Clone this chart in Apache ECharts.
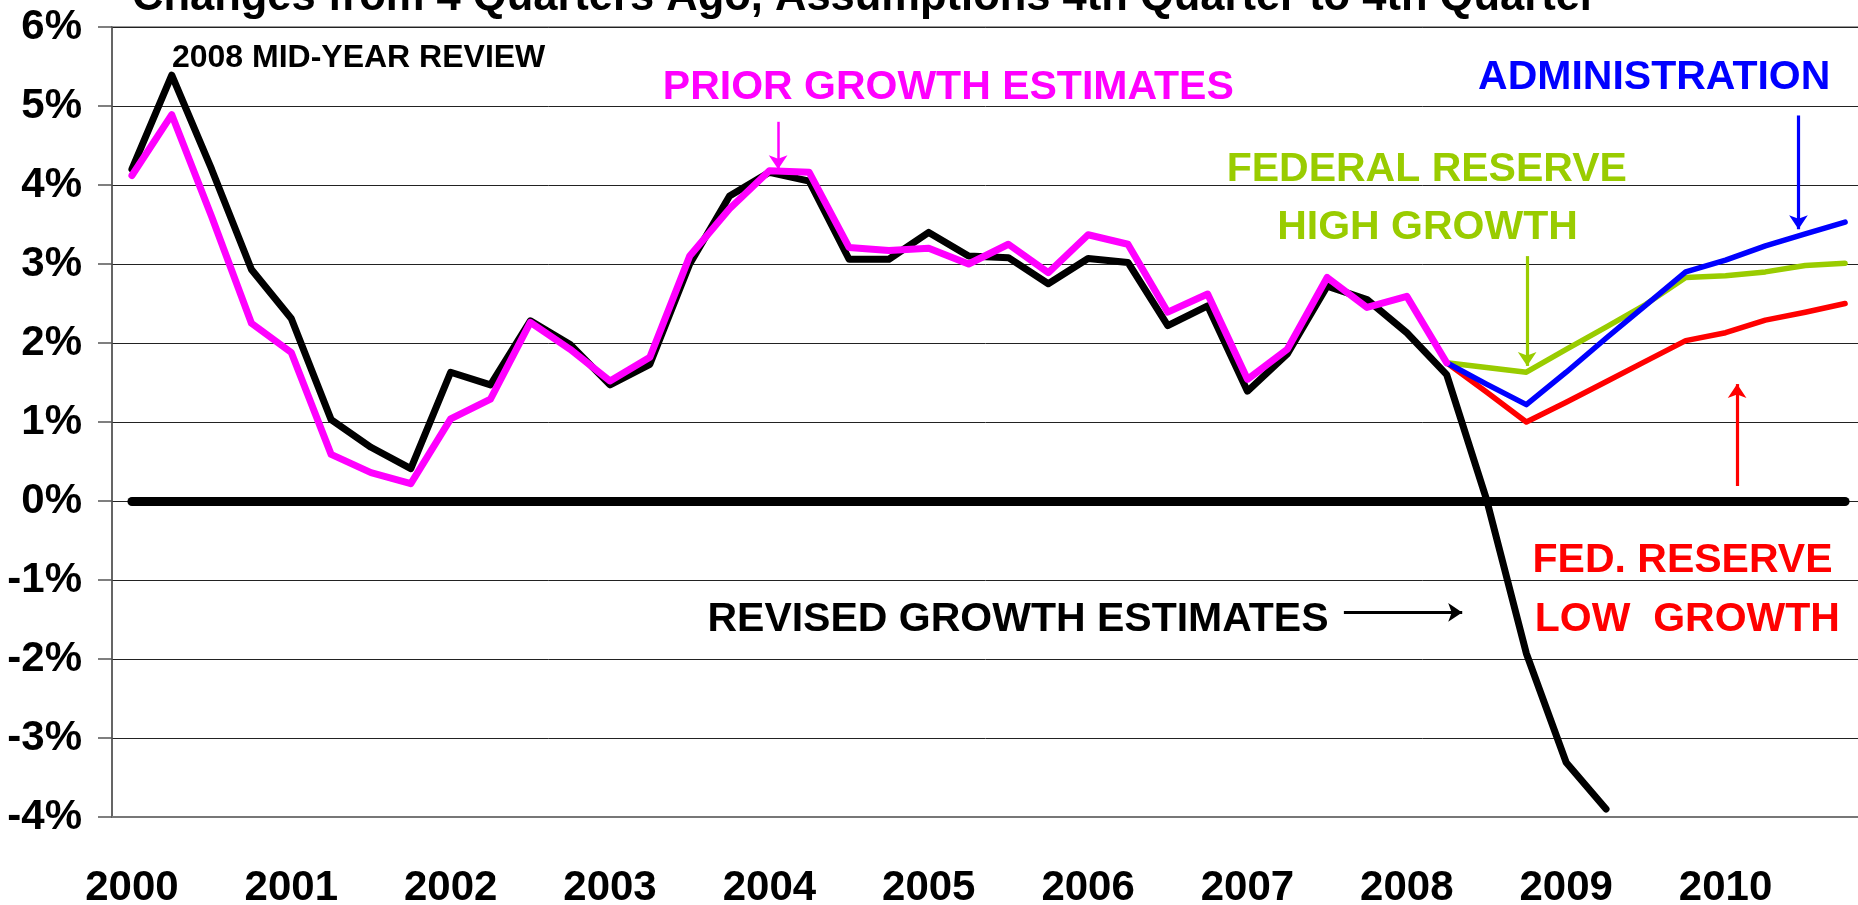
<!DOCTYPE html>
<html>
<head>
<meta charset="utf-8">
<title>Growth estimates</title>
<script src="https://cdn.jsdelivr.net/npm/echarts@6/dist/echarts.min.js"></script>
<style>
  html, body { margin: 0; padding: 0; background: #fff; }
  #chart { width: 1858px; height: 905px; }
</style>
</head>
<body>
<div id="chart"></div>
<script>
// quarterly categories, 2000 Q1 .. 2010 Q4
const years = ['2000', '2001', '2002', '2003', '2004', '2005', '2006', '2007', '2008', '2009', '2010']
const quarters = years.flatMap(y => ['Q1', 'Q2', 'Q3', 'Q4'].map(q => y + ' ' + q))

// 2008 mid-year review, revised estimates (starts 2000 Q1)
const revised = [4.20, 5.39, 4.20, 2.93, 2.31, 1.03, 0.68, 0.41, 1.63, 1.47, 2.28, 1.98,
  1.47, 1.73, 3.00, 3.86, 4.16, 4.05, 3.06, 3.06, 3.40, 3.10, 3.08, 2.75,
  3.07, 3.02, 2.22, 2.47, 1.39, 1.86, 2.72, 2.55, 2.13, 1.60, 0.02, -1.93,
  -3.31, -3.90]
// prior growth estimates (starts 2000 Q1)
const prior = [4.12, 4.89, 3.60, 2.25, 1.88, 0.59, 0.36, 0.22, 1.04, 1.29, 2.26, 1.92,
  1.52, 1.82, 3.10, 3.70, 4.18, 4.16, 3.21, 3.17, 3.20, 3.00, 3.25, 2.89,
  3.37, 3.25, 2.39, 2.62, 1.54, 1.92, 2.83, 2.45, 2.59, 1.75]
// assumptions, start at 2008 Q2 (index 33)
const projStart = 33
const fedHigh = [1.75, 1.69, 1.63, 1.92, 2.20, 2.49, 2.83, 2.85, 2.90, 2.98, 3.01]
const admin = [1.75, 1.48, 1.22, 1.63, 2.06, 2.48, 2.90, 3.05, 3.23, 3.38, 3.53]
const fedLow = [1.75, 1.38, 1.00, 1.25, 1.51, 1.77, 2.03, 2.13, 2.29, 2.39, 2.50]

const FONT = '"Liberation Sans", Arial, Helvetica, sans-serif'

// annotations in quarter units (x) and percent (y)
const labels = [
  { text: '2008 MID-YEAR REVIEW', at: [6.19, 5.61], color: '#000000', size: 32 },
  { text: 'PRIOR GROWTH ESTIMATES', at: [20.99, 5.23], color: '#FF00FF', size: 41 },
  { text: 'FEDERAL RESERVE', at: [33.0, 4.19], color: '#99CC00', size: 41 },
  { text: 'HIGH GROWTH', at: [33.02, 3.46], color: '#99CC00', size: 41 },
  { text: 'ADMINISTRATION', at: [38.71, 5.36], color: '#0000FF', size: 41 },
  { text: 'FED. RESERVE', at: [39.42, -0.76], color: '#FF0000', size: 41 },
  { text: 'LOW  GROWTH', at: [39.54, -1.50], color: '#FF0000', size: 41 },
  { text: 'REVISED GROWTH ESTIMATES', at: [22.74, -1.50], color: '#000000', size: 41 }
]
const arrows = [
  { from: [16.72, 4.80], to: [16.72, 4.20], color: '#FF00FF', width: 2.5 },
  { from: [35.52, 3.10], to: [35.52, 1.71], color: '#99CC00', width: 3.2 },
  { from: [42.33, 4.88], to: [42.33, 3.44], color: '#0000FF', width: 3.2 },
  { from: [40.79, 0.19], to: [40.79, 1.48], color: '#FF0000', width: 3.2 },
  { from: [30.92, -1.41], to: [33.89, -1.41], color: '#000000', width: 3 }
]

function pad(values, start) {
  const out = quarters.map(() => null)
  values.forEach((v, i) => { out[start + i] = v })
  return out
}

function lineSeries(name, data, color, width) {
  return {
    name,
    type: 'line',
    data,
    symbol: 'none',
    connectNulls: false,
    lineStyle: { color, width, cap: 'round', join: 'round' },
    itemStyle: { color },
    silent: true
  }
}

const chart = echarts.init(document.getElementById('chart'))

const option = {
  animation: false,
  backgroundColor: '#ffffff',
  grid: {
    left: 112, top: 27, width: 1753, height: 790,
    show: true, borderColor: '#999', borderWidth: 2,
    containLabel: false, outerBoundsMode: 'none'
  },
  xAxis: [
    {
      type: 'category',
      data: quarters,
      boundaryGap: true,
      axisLine: { onZero: false, lineStyle: { color: '#777', width: 2 } },
      axisTick: { interval: 3, length: 15, lineStyle: { color: '#555', width: 1.5 } },
      axisLabel: {
        interval: 3,
        formatter: v => v.slice(0, 4),
        margin: 50,
        color: '#000',
        fontSize: 42,
        fontWeight: 'bold',
        fontFamily: FONT
      },
      splitLine: { show: false }
    },
    { type: 'value', min: 0, max: 44, show: false }
  ],
  yAxis: {
    type: 'value',
    min: -4,
    max: 6,
    interval: 1,
    axisLine: { show: true, lineStyle: { color: '#555', width: 1.5 } },
    axisTick: { show: true, length: 14, lineStyle: { color: '#555', width: 1.5 } },
    axisLabel: {
      formatter: '{value}%',
      margin: 30,
      color: '#000',
      fontSize: 42,
      fontWeight: 'bold',
      fontFamily: FONT
    },
    splitLine: { lineStyle: { color: '#222', width: 1 } }
  },
  series: [
    {
      ...lineSeries('REVISED GROWTH ESTIMATES', pad(revised, 0), '#000000', 7),
      markLine: {
        silent: true,
        symbol: 'none',
        label: { show: false },
        lineStyle: { color: '#000', width: 9, type: 'solid', cap: 'round' },
        data: [[{ coord: [0, 0] }, { coord: [quarters.length - 1, 0] }]]
      }
    },
    lineSeries('FED. RESERVE LOW GROWTH', pad(fedLow, projStart), '#FF0000', 5.5),
    lineSeries('FEDERAL RESERVE HIGH GROWTH', pad(fedHigh, projStart), '#99CC00', 5.5),
    lineSeries('ADMINISTRATION', pad(admin, projStart), '#0000FF', 5.5),
    lineSeries('PRIOR GROWTH ESTIMATES', pad(prior, 0), '#FF00FF', 7),
    {
      type: 'lines',
      coordinateSystem: 'cartesian2d',
      xAxisIndex: 1,
      yAxisIndex: 0,
      silent: true,
      symbol: ['none', 'arrow'],
      symbolSize: [0, 14],
      z: 5,
      data: arrows.map(a => ({
        coords: [a.from, a.to],
        lineStyle: { color: a.color, width: a.width, opacity: 1, curveness: 0 }
      }))
    }
  ]
}

chart.setOption(option)

// text annotations placed through the axes
const graphics = labels.map(l => {
  const [x, y] = chart.convertToPixel({ xAxisIndex: 1, yAxisIndex: 0 }, l.at)
  return {
    type: 'text',
    x, y,
    silent: true,
    style: {
      text: l.text,
      fill: l.color,
      fontSize: l.size,
      fontWeight: 'bold',
      fontFamily: FONT,
      align: 'center',
      verticalAlign: 'middle',
      textAlign: 'center',
      textVerticalAlign: 'middle'
    }
  }
})
// chart title, cut off at the top edge as in the source
graphics.push({
  type: 'text',
  x: 132, y: -2,
  silent: true,
  style: {
    text: 'Changes from 4 Quarters Ago, Assumptions 4th Quarter to 4th Quarter',
    fill: '#000',
    fontSize: 43.5,
    fontWeight: 'bold',
    fontFamily: FONT,
    align: 'left',
    verticalAlign: 'middle',
    textAlign: 'left',
    textVerticalAlign: 'middle'
  }
})
chart.setOption({ graphic: graphics })

window.addEventListener('resize', () => chart.resize())
</script>
</body>
</html>
